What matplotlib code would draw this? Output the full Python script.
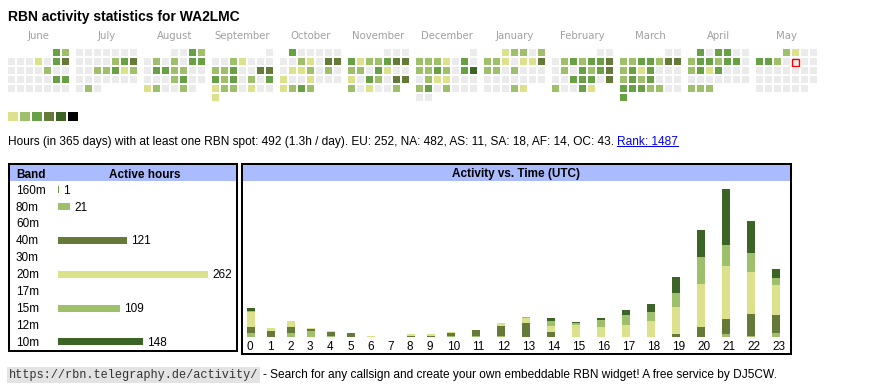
import datetime as dt
import matplotlib
matplotlib.use("Agg")
import matplotlib.pyplot as plt
from matplotlib.patches import Rectangle
import numpy as np

plt.rcParams["font.family"] = ["Liberation Sans", "DejaVu Sans"]

W, H = 870, 390

callsign = "WA2LMC"

# calendar: one digit per day, 0 = no spot, 1..5 = activity level
month_names = ["June", "July", "August", "September", "October", "November",
               "December", "January", "February", "March", "April", "May"]
month_years = [2024, 2024, 2024, 2024, 2024, 2024, 2024, 2025, 2025, 2025, 2025, 2025]
month_numbers = [6, 7, 8, 9, 10, 11, 12, 1, 2, 3, 4, 5]
day_levels = [
    "32" "0001034" "0000200" "0000033" "0000000",
    "0000000" "0000234" "0022312" "0000000" "020",
    "0032" "0202033" "0332200" "0002300" "120020",
    "0" "0021000" "2230044" "3230203" "1220100" "1",
    "300000" "0021044" "0112020" "1001000" "1232",
    "000" "3122344" "2203100" "1032044" "201002",
    "0" "2221030" "2232035" "0211000" "2302000" "00",
    "12202" "2210114" "2202000" "0000000" "00021",
    "00" "0232334" "0203234" "0033304" "20031",
    "00" "2233244" "2313000" "2323000" "3332200" "3",
    "303300" "2332330" "2313000" "0000000" "222",
    "2100" "3320000" "0000000" "0000000" "000000",
]
today = dt.date(2025, 5, 9)
level_colors = ["#ebebeb", "#dbe28b", "#9ec06a", "#67a045", "#657a39", "#3c6426", "#000000"]

# summary line
days = 365
active_hours = 492
continents = ["EU", "NA", "AS", "SA", "AF", "OC"]
continent_hours = [252, 482, 11, 18, 14, 43]
rank = 1487

# band table
bands = ["160m", "80m", "60m", "40m", "30m", "20m", "17m", "15m", "12m", "10m"]
band_hours = [1, 21, 0, 121, 0, 262, 0, 109, 0, 148]
band_colors = ["#67a045", "#9ec06a", "#67a045", "#657a39", "#67a045",
               "#dbe28b", "#67a045", "#9ec06a", "#67a045", "#3c6426"]

# activity vs. hour of day (UTC), stacked by band
hours = list(range(24))
h_80m = [3, 0, 3, 5, 1, 0, 0, 0, 0, 0, 1, 1, 1, 0, 0, 0, 0, 0, 0, 0, 0, 2, 1, 3]
h_40m = [6, 5, 6, 2, 3, 3, 0, 0, 1, 1, 2, 5, 9, 12, 4, 0, 0, 0, 0, 2, 9, 14, 20, 17]
h_20m = [13, 3, 5, 1, 1, 0, 1, 0, 1, 1, 1, 0, 2, 5, 6, 11, 9, 11, 14, 25, 39, 48, 38, 27]
h_15m = [1, 0, 0, 0, 0, 0, 0, 0, 0, 0, 0, 0, 0, 1, 4, 1, 6, 9, 8, 13, 24, 19, 17, 6]
h_10m = [3, 0, 0, 0, 0, 0, 0, 0, 0, 0, 0, 0, 0, 0, 3, 1, 2, 4, 8, 14, 25, 51, 29, 8]

url = "https://rbn.telegraphy.de/activity/"
footer = "- Search for any callsign and create your own embeddable RBN widget! A free service by DJ5CW."

HEADER_BLUE = "#aabbff"
FS = 8.5

fig = plt.figure(figsize=(W / 100, H / 100), dpi=100)
bg = fig.add_axes([0, 0, 1, 1])
bg.set_xlim(0, W)
bg.set_ylim(H, 0)
bg.axis("off")


def px_axes(left, top, right, bottom):
    ax = fig.add_axes([left / W, 1 - bottom / H, (right - left) / W, (bottom - top) / H])
    ax.axis("off")
    return ax


bg.text(8, 20.7, f"RBN activity statistics for {callsign}", fontsize=10,
        fontweight="bold", va="baseline")

# calendar, one 7-column block per month, rows are weeks
CELL, STEP, MONTH_STEP, CAL_X, CAL_Y = 7, 9, 68, 8, 49
for m, levels in enumerate(day_levels):
    first = dt.date(month_years[m], month_numbers[m], 1)
    x0 = CAL_X + m * MONTH_STEP
    for d, lev in enumerate(levels):
        slot = first.weekday() + d
        cx, cy = x0 + (slot % 7) * STEP, CAL_Y + (slot // 7) * STEP
        bg.add_patch(Rectangle((cx, cy), CELL, CELL, facecolor=level_colors[int(lev)], lw=0))
        if first + dt.timedelta(days=d) == today:
            bg.add_patch(Rectangle((cx + 0.5, cy + 0.5), CELL, CELL, fill=False,
                                   edgecolor="#ff0000", lw=1.0))
    bg.text(x0 + (6 * STEP + CELL) / 2, 39, month_names[m], ha="center", va="baseline",
            fontsize=7.3, color="#a0a0a0", family="DejaVu Sans")

# level legend
for i, c in enumerate(level_colors[1:]):
    bg.add_patch(Rectangle((8 + i * 12, 112), 10, 9, facecolor=c, lw=0))

# summary line
summary = (f"Hours (in {days} days) with at least one RBN spot: {active_hours} "
           f"({active_hours / days:.1f}h / day). "
           + ", ".join(f"{c}: {v}" for c, v in zip(continents, continent_hours)) + ". ")
t1 = bg.text(8, 145, summary, fontsize=8.6, va="baseline")
t2 = bg.annotate(f"Rank: {rank}", xy=(1, 0), xycoords=t1, va="bottom", ha="left",
                 fontsize=8.6, color="#0000ee")

# boxes and headers
for (x0, y0, x1, y1) in [(8, 163, 238, 352), (240.7, 163, 792, 354.7)]:
    bg.add_patch(Rectangle((x0 + 2, 165), x1 - x0 - 4, 16, facecolor=HEADER_BLUE, lw=0))
    bg.add_patch(Rectangle((x0 + 1, y0 + 1), x1 - x0 - 2, y1 - y0 - 2, fill=False,
                           edgecolor="black", lw=1.45))
bg.text(16, 177.5, "Band", fontsize=FS, fontweight="bold", va="baseline")
bg.text(144.5, 177.5, "Active hours", fontsize=FS, fontweight="bold", va="baseline", ha="center")
bg.text(516, 177.5, "Activity vs. Time (UTC)", fontsize=FS, fontweight="bold",
        va="baseline", ha="center")

# band table
ROW = 16.9
axb = px_axes(58, 189.8 - ROW / 2, 236, 189.8 + 9.5 * ROW)
px_per_hour = 150 / max(band_hours)
axb.set_xlim(0, 178 / px_per_hour)
axb.set_ylim(len(bands) - 0.5, -0.5)
rows = np.arange(len(bands))
axb.barh(rows, band_hours, height=7 / ROW, color=band_colors, lw=0)
for i, (b, v) in enumerate(zip(bands, band_hours)):
    axb.annotate(b, (0, i), xytext=(-42, -3.8), textcoords="offset pixels",
                 va="baseline", fontsize=FS, annotation_clip=False)
    if v:
        axb.annotate(str(v), (v, i), xytext=(4, -3.8), textcoords="offset pixels",
                     va="baseline", fontsize=FS, annotation_clip=False)

# activity vs. time; column width follows label width (1 or 2 digits)
col_w = np.array([20 if h < 10 else 25 for h in hours])
x_left = 5 + np.concatenate([[0], np.cumsum(col_w)[:-1]])
axa = px_axes(242, 181, 790, 336.7)
axa.set_xlim(0, 548)
totals = np.sum([h_80m, h_40m, h_20m, h_15m, h_10m], axis=0)
axa.set_ylim(0, max(totals) * 155.7 / 147.7)
bottom = np.zeros(24)
for vals, c in [(h_80m, "#9ec06a"), (h_40m, "#657a39"), (h_20m, "#dbe28b"),
                (h_15m, "#9ec06a"), (h_10m, "#3c6426")]:
    axa.bar(x_left, vals, width=8, bottom=bottom, align="edge", color=c, lw=0)
    bottom += np.array(vals)
for x, h in zip(x_left, hours):
    axa.annotate(str(h), (x, 0), xytext=(0, -13.3), textcoords="offset pixels",
                 va="baseline", ha="left", fontsize=FS, annotation_clip=False)

# footer
t3 = bg.text(9, 378, url, fontsize=8.6, family="Liberation Mono", va="baseline",
             color="#333333",
             bbox=dict(boxstyle="square,pad=0.15", facecolor="#e3e3e3", edgecolor="none"))
bg.annotate(footer, xy=(1, 0), xycoords=t3, xytext=(5, 0), textcoords="offset pixels",
            va="bottom", ha="left", fontsize=8.6)

# underline for the rank link
fig.canvas.draw()
bb = t2.get_window_extent()
inv = bg.transData.inverted()
(xa, ya), (xb, _) = inv.transform([(bb.x0, bb.y0), (bb.x1, bb.y0)])
bg.plot([xa, xb], [ya - 2.3, ya - 2.3], color="#0000ee", lw=0.75)

fig.savefig("out.png", dpi=100)
